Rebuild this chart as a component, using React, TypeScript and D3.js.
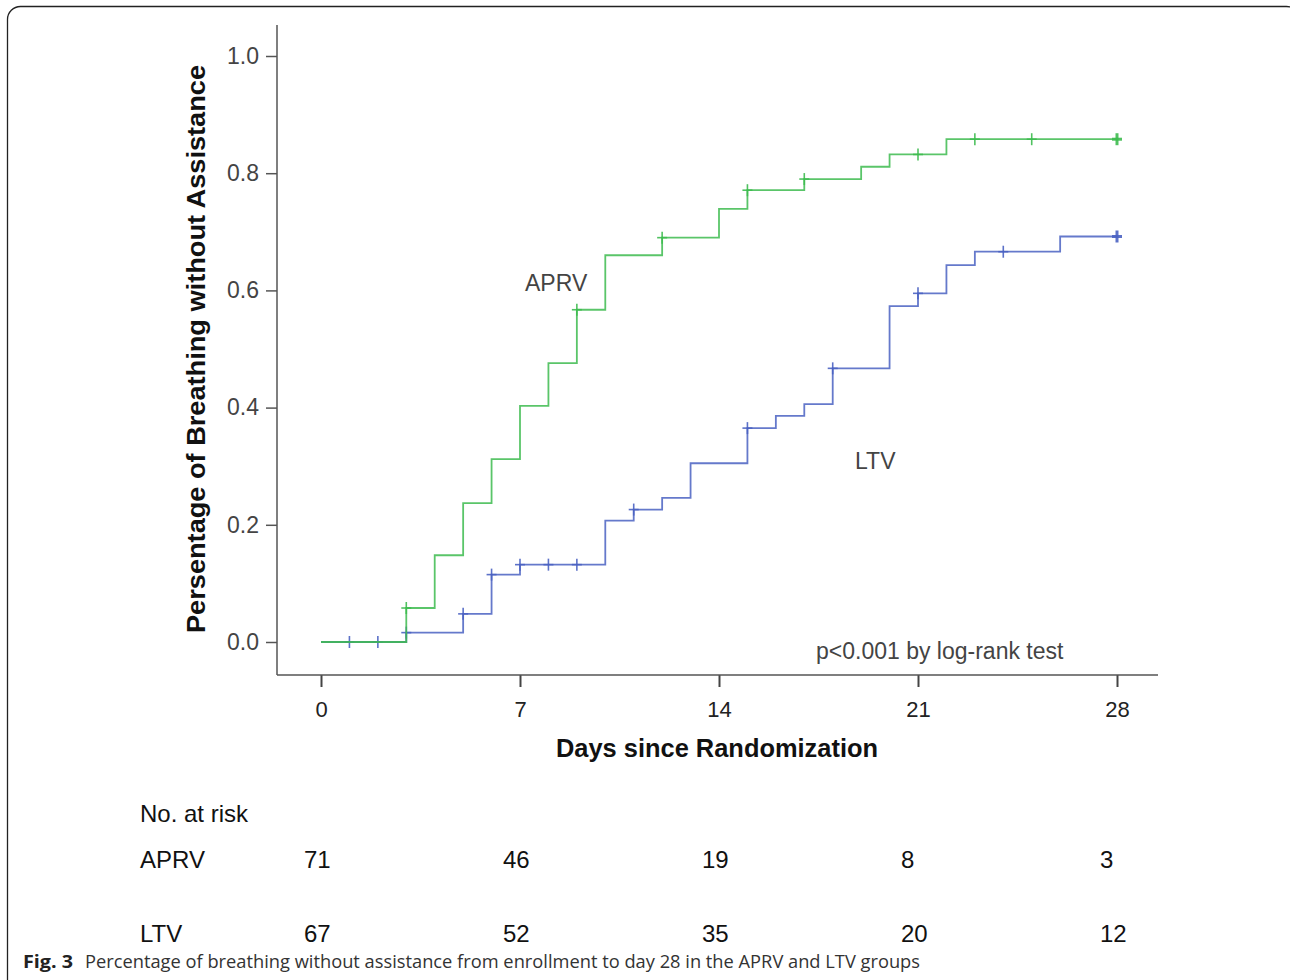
import { useEffect, useRef } from 'react';
import * as d3 from 'd3';

// Kaplan-Meier style step data (day of event, cumulative proportion after the step)
const aprvDays = [0, 3, 4, 5, 6, 7, 8, 9, 10, 12, 14, 15, 17, 19, 20, 22, 28];
const aprvValues = [0, 0.058, 0.148, 0.237, 0.312, 0.403, 0.476, 0.567, 0.66, 0.69, 0.739, 0.771, 0.79, 0.811, 0.832, 0.858, 0.858];
const aprvCensored = [3, 9, 12, 15, 17, 21, 23, 25, 28];

const ltvDays = [0, 3, 5, 6, 7, 10, 11, 12, 13, 15, 16, 17, 18, 20, 21, 22, 23, 26, 28];
const ltvValues = [0, 0.016, 0.048, 0.115, 0.132, 0.207, 0.226, 0.246, 0.305, 0.365, 0.386, 0.406, 0.467, 0.573, 0.595, 0.643, 0.666, 0.692, 0.692];
const ltvCensored = [1, 2, 3, 5, 6, 7, 8, 9, 11, 15, 18, 21, 24, 28];

const xTicks = [0, 7, 14, 21, 28];
const yTicks = [0, 0.2, 0.4, 0.6, 0.8, 1.0];

const riskGroups = ['APRV', 'LTV'];
const aprvAtRisk = [71, 46, 19, 8, 3];
const ltvAtRisk = [67, 52, 35, 20, 12];

const FONT = '"Liberation Sans", Arial, sans-serif';
const W = 1290;
const H = 980;

export default function App() {
  const ref = useRef<SVGSVGElement | null>(null);

  useEffect(() => {
    if (!ref.current) return;
    const svg = d3.select(ref.current);
    svg.selectAll('*').remove();

    const x = d3.scaleLinear().domain([0, 28]).range([321, 1117]);
    const y = d3.scaleLinear().domain([0, 1]).range([642, 56]);
    const axisX = 277;
    const axisY = 675;

    // figure frame
    svg.append('rect')
      .attr('x', 7.5).attr('y', 6.5)
      .attr('width', 1292).attr('height', 990)
      .attr('rx', 13)
      .attr('fill', 'none').attr('stroke', '#222').attr('stroke-width', 1.3);

    // y axis
    const yAxis = svg.append('g')
      .attr('transform', `translate(${axisX},0)`)
      .call(d3.axisLeft(y).tickValues(yTicks).tickFormat(d3.format('.1f')).tickSize(11).tickPadding(7));
    yAxis.select('.domain').remove();
    yAxis.selectAll('line').attr('stroke', '#555').attr('stroke-width', 1.5);
    yAxis.selectAll('text').attr('font-family', FONT).attr('font-size', 23).attr('fill', '#444');
    yAxis.append('line')
      .attr('x1', 0).attr('x2', 0).attr('y1', 25).attr('y2', axisY)
      .attr('stroke', '#555').attr('stroke-width', 1.5);

    // x axis
    const xAxis = svg.append('g')
      .attr('transform', `translate(0,${axisY})`)
      .call(d3.axisBottom(x).tickValues(xTicks).tickSize(12).tickPadding(14));
    xAxis.select('.domain').remove();
    xAxis.selectAll('line').attr('stroke', '#444').attr('stroke-width', 2);
    xAxis.selectAll('text').attr('font-family', FONT).attr('font-size', 22).attr('fill', '#222');
    xAxis.append('line')
      .attr('x1', axisX).attr('x2', 1158).attr('y1', 0).attr('y2', 0)
      .attr('stroke', '#555').attr('stroke-width', 1.5);

    // axis titles
    svg.append('text')
      .attr('transform', `translate(205,${y(0.5)}) rotate(-90)`)
      .attr('text-anchor', 'middle')
      .attr('font-family', FONT).attr('font-size', 26).attr('font-weight', 'bold').attr('fill', '#111')
      .attr('textLength', 568).attr('lengthAdjust', 'spacingAndGlyphs')
      .text('Persentage of Breathing without Assistance');

    svg.append('text')
      .attr('x', 717).attr('y', 757)
      .attr('text-anchor', 'middle')
      .attr('font-family', FONT).attr('font-size', 25).attr('font-weight', 'bold').attr('fill', '#111')
      .attr('textLength', 322).attr('lengthAdjust', 'spacingAndGlyphs')
      .text('Days since Randomization');

    // step curves
    const line = d3.line<[number, number]>()
      .x(d => x(d[0]))
      .y(d => y(d[1]))
      .curve(d3.curveStepAfter);

    const series = [
      { days: ltvDays, values: ltvValues, censored: ltvCensored, color: '#4a62c2' },
      { days: aprvDays, values: aprvValues, censored: aprvCensored, color: '#3dbb4f' },
    ];

    series.forEach(s => {
      const pts: [number, number][] = s.days.map((d, i) => [d, s.values[i]]);
      svg.append('path')
        .attr('d', line(pts))
        .attr('fill', 'none')
        .attr('stroke', s.color)
        .attr('stroke-width', 1.8)
        .attr('stroke-opacity', 0.85);

      const valueAt = (day: number) => {
        let v = 0;
        s.days.forEach((d, i) => { if (d <= day) v = s.values[i]; });
        return v;
      };

      const marks = svg.append('g').attr('stroke', s.color).attr('stroke-opacity', 0.9);
      s.censored.forEach(day => {
        const cx = x(day);
        const cy = y(valueAt(day));
        const sw = day === 28 ? 3 : 1.6;
        marks.append('line').attr('x1', cx).attr('x2', cx).attr('y1', cy - 6).attr('y2', cy + 6).attr('stroke-width', sw);
        marks.append('line').attr('x1', cx - 5).attr('x2', cx + 5).attr('y1', cy).attr('y2', cy).attr('stroke-width', sw);
      });
    });

    // curve labels and p value
    const note = (tx: number, ty: number, t: string) =>
      svg.append('text')
        .attr('x', tx).attr('y', ty)
        .attr('font-family', FONT).attr('font-size', 23).attr('fill', '#444')
        .text(t);
    note(525, 291, 'APRV');
    note(855, 469, 'LTV');
    note(816, 659, 'p<0.001 by log-rank test');

    // number at risk table
    const table = svg.append('g').attr('font-family', FONT).attr('font-size', 24).attr('fill', '#111');
    table.append('text').attr('x', 140).attr('y', 822).text('No. at risk');
    const rowY = [868, 942];
    const rows = [aprvAtRisk, ltvAtRisk];
    riskGroups.forEach((g, i) => {
      table.append('text').attr('x', 140).attr('y', rowY[i]).text(g);
      rows[i].forEach((n, j) => {
        table.append('text').attr('x', x(xTicks[j]) - 17).attr('y', rowY[i]).text(n);
      });
    });

    // caption
    const cap = svg.append('text')
      .attr('x', 23).attr('y', 968)
      .attr('font-family', '"Open Sans", "Noto Sans", sans-serif').attr('font-size', 18).attr('fill', '#333');
    cap.append('tspan').attr('font-weight', 'bold').attr('fill', '#222')
      .attr('textLength', 50).attr('lengthAdjust', 'spacingAndGlyphs').text('Fig. 3');
    cap.append('tspan').attr('x', 85).attr('textLength', 835).attr('lengthAdjust', 'spacingAndGlyphs')
      .text('Percentage of breathing without assistance from enrollment to day 28 in the APRV and LTV groups');
  }, []);

  return (
    <svg
      ref={ref}
      width={W}
      height={H}
      style={{ position: 'absolute', left: 0, top: 0, background: '#fff' }}
    />
  );
}
